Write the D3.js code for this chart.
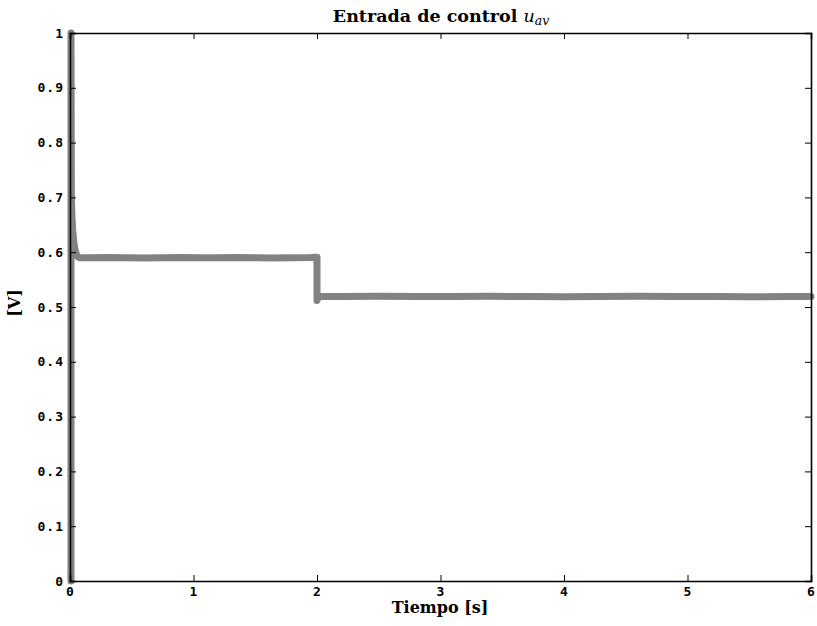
<!DOCTYPE html>
<html><head><meta charset="utf-8">
<script src="https://cdn.jsdelivr.net/npm/d3@7"></script>
<style>body{margin:0;background:#fff}svg{display:block}</style>
</head><body>
<svg id="c" width="817" height="626"></svg>
<script>
// Data
const timeStart = [0.008, 0.008, 0.011, 0.016, 0.022, 0.03, 0.04, 0.05, 0.062, 0.075, 0.09];
const valueStart = [0.0, 1.0, 0.70, 0.665, 0.64, 0.62, 0.605, 0.597, 0.592, 0.590, 0.590];
const timeMid = [0.15,0.3,0.45,0.6,0.75,0.9,1.05,1.2,1.35,1.5,1.65,1.8,1.95,1.995];
const valueMid = [0.590,0.5905,0.590,0.5895,0.590,0.5905,0.590,0.590,0.5905,0.590,0.5895,0.590,0.5905,0.591];
const timeStep = [2.0, 2.0, 2.01, 2.03];
const valueStep = [0.591, 0.512, 0.518, 0.519];
const timeEnd = [2.2,2.5,2.8,3.1,3.4,3.7,4.0,4.3,4.6,4.9,5.2,5.5,5.8,6.0];
const valueEnd = [0.519,0.5195,0.519,0.519,0.5195,0.519,0.5185,0.519,0.5195,0.519,0.519,0.5185,0.519,0.519];
const xTicks = [0,1,2,3,4,5,6];
const yTicks = [0,0.1,0.2,0.3,0.4,0.5,0.6,0.7,0.8,0.9,1];

(function(){
const time = timeStart.concat(timeMid, timeStep, timeEnd);
const value = valueStart.concat(valueMid, valueStep, valueEnd);
const series = time.map((t,i)=>[t, value[i]]);

const svg = d3.select('#c');
const L = 70, R = 811, T = 33, B = 581;
const x = d3.scaleLinear().domain([0,6]).range([L,R]);
const y = d3.scaleLinear().domain([0,1]).range([B,T]);

// line
svg.append('path').datum(series)
  .attr('d', d3.line().x(d=>x(d[0])).y(d=>y(d[1])))
  .attr('fill','none').attr('stroke','#828282').attr('stroke-width',7)
  .attr('stroke-linejoin','round').attr('stroke-linecap','round');

// axes
const tickFont = "bold 13px 'DejaVu Sans Mono', 'Liberation Mono', monospace";
const gBottom = svg.append('g').attr('transform',`translate(0,${B})`)
  .call(d3.axisBottom(x).tickValues(xTicks).tickSize(-6).tickPadding(6).tickFormat(d3.format('d')));
const gTop = svg.append('g').attr('transform',`translate(0,${T})`)
  .call(d3.axisTop(x).tickValues(xTicks).tickSize(-6).tickFormat(''));
const gLeft = svg.append('g').attr('transform',`translate(${L},0)`)
  .call(d3.axisLeft(y).tickValues(yTicks).tickSize(-6).tickPadding(6).tickFormat(d=>d===0||d===1?d3.format('d')(d):d3.format('.1f')(d)));
const gRight = svg.append('g').attr('transform',`translate(${R},0)`)
  .call(d3.axisRight(y).tickValues(yTicks).tickSize(-6).tickFormat(''));
[gBottom,gTop,gLeft,gRight].forEach(g=>{
  g.select('.domain').attr('stroke','#000').attr('stroke-width',1.6);
  g.selectAll('.tick line').attr('stroke','#000').attr('stroke-width',1);
  g.selectAll('text').style('font',tickFont).attr('fill','#000').style('letter-spacing','1px');
});
gBottom.selectAll('text').attr('dy','0.71em');
gLeft.selectAll('text').attr('x',-6);

const serif = "'DejaVu Serif', 'Liberation Serif', serif";
// title
const title = svg.append('text').attr('x',441).attr('y',22).attr('text-anchor','middle')
  .style('font',`bold 17.5px ${serif}`).attr('fill','#000');
title.append('tspan').text('Entrada de control ');
title.append('tspan').style('font-style','italic').style('font-weight','normal').text('u');
title.append('tspan').style('font-style','italic').style('font-weight','normal').style('font-size','12.5px').attr('dy',3).text('av');

// x label
svg.append('text').attr('x',440).attr('y',613).attr('text-anchor','middle')
  .style('font',`bold 16px ${serif}`).attr('fill','#000')
  .text('Tiempo [s]');
// y label
svg.append('text').attr('transform','translate(20,303) rotate(-90)').attr('text-anchor','middle')
  .style('font',`bold 16px ${serif}`).attr('fill','#000')
  .text('[V]');
})();
</script>
</body></html>
